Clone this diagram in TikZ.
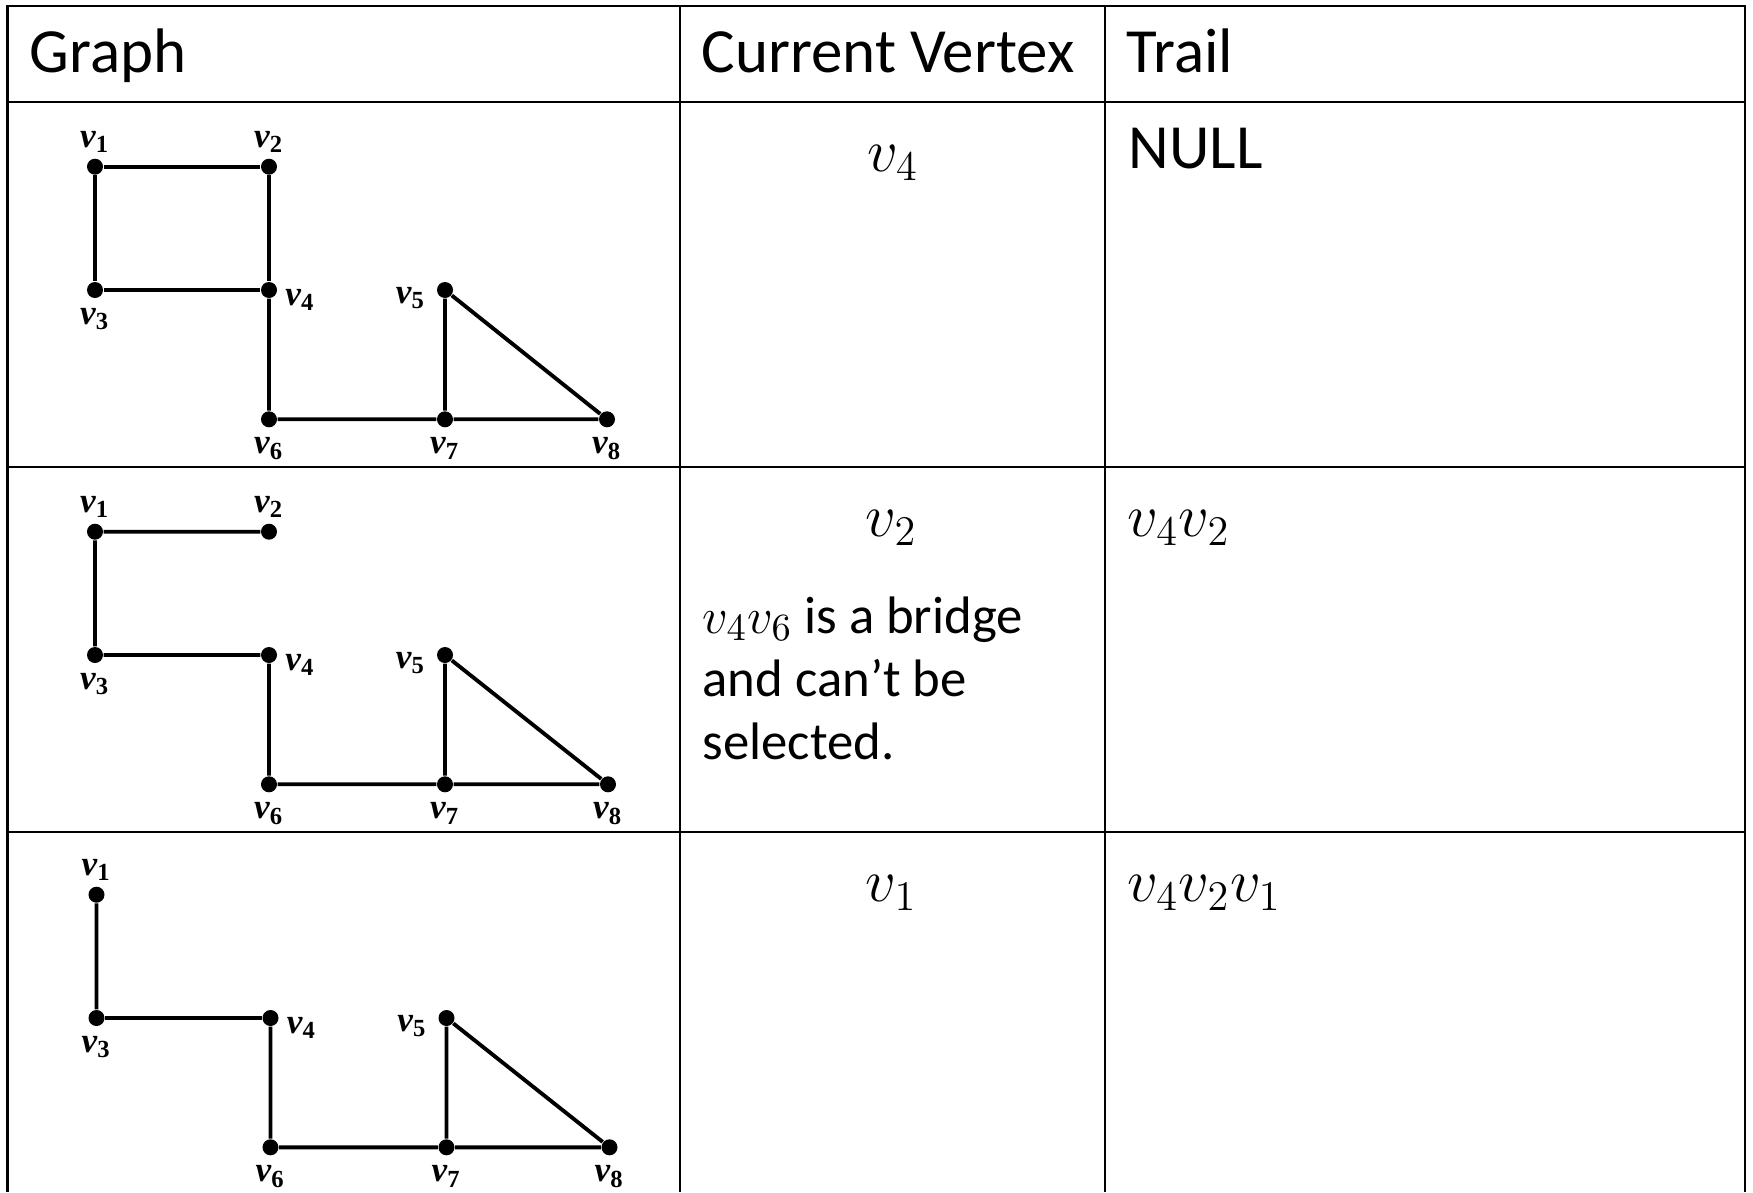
\documentclass[tikz,border=0pt]{standalone}
\usepackage{fontspec}
\setmainfont{Carlito}
\newfontfamily\lblfont{Liberation Serif}
\usetikzlibrary{positioning}

\newcommand{\vl}[1]{{\lblfont\bfseries\itshape v}\textsubscript{\lblfont\bfseries #1}}

\tikzset{
  rule/.style={line width=0.8pt},
  dot/.style={circle, fill, inner sep=0pt, minimum size=0.16cm},
  edge/.style={line width=1.1pt},
  vlabel/.style={inner sep=0pt, font=\lblfont\bfseries\fontsize{10}{11}\selectfont},
  labup/.style={label={[vlabel,label distance=0.05cm]above:\vl{#1}}},
  labdown/.style={label={[vlabel,label distance=0.09cm]below:\vl{#1}}},
  labright/.style={label={[vlabel,label distance=0.07cm,yshift=-0.1cm]right:\vl{#1}}},
  lableft/.style={label={[vlabel,label distance=0.1cm,yshift=-0.08cm]left:\vl{#1}}},
  cell/.style={inner sep=0pt, font=\fontsize{17.9}{21}\selectfont},
  note/.style={inner sep=0pt, font=\fontsize{15}{18}\selectfont}
}

\begin{document}
\begin{tikzpicture}
\useasboundingbox (0,0) rectangle (17.53,-11.92);

% table rules
\draw[rule] (0.073,-11.92) -- (0.073,-0.06) -- (17.45,-0.06) -- (17.45,-11.92);
\draw[rule] (0.073,-1.02) -- (17.45,-1.02);
\draw[rule] (0.073,-4.67) -- (17.45,-4.67);
\draw[rule] (0.073,-8.32) -- (17.45,-8.32);
\draw[rule] (6.80,-0.06) -- (6.80,-11.92);
\draw[rule] (11.05,-0.06) -- (11.05,-11.92);

% header
\node[cell, anchor=base west] (hgraph) at (0.29,-0.72) {Graph};
\node[cell, anchor=base west] (hcurrent) at (7.01,-0.72) {Current Vertex};
\node[cell, anchor=base west] (htrail) at (11.26,-0.72) {Trail};

% row 1
\node[dot, labup=1] (a1) at (0.95,-1.667) {};
\node[dot, labup=2] (a2) at (2.69,-1.667) {};
\node[dot, labdown=3] (a3) at (0.95,-2.90) {};
\node[dot, labright=4] (a4) at (2.69,-2.90) {};
\node[dot, lableft=5] (a5) at (4.45,-2.90) {};
\node[dot, labdown=6] (a6) at (2.69,-4.193) {};
\node[dot, labdown=7] (a7) at (4.45,-4.193) {};
\node[dot, labdown=8] (a8) at (6.07,-4.193) {};
\draw[edge] (a1) -- (a2) -- (a4) -- (a3) -- (a1);
\draw[edge] (a4) -- (a6) -- (a7) -- (a8) -- (a5) -- (a7);
\node[cell, anchor=base] (cur1) at (8.93,-1.717) {$v_4$};
\node[cell, anchor=base west] (trail1) at (11.28,-1.68) {NULL};

% row 2
\begin{scope}[yshift=-3.65cm]
\node[dot, labup=1] (b1) at (0.95,-1.667) {};
\node[dot, labup=2] (b2) at (2.69,-1.667) {};
\node[dot, labdown=3] (b3) at (0.95,-2.90) {};
\node[dot, labright=4] (b4) at (2.69,-2.90) {};
\node[dot, lableft=5] (b5) at (4.45,-2.90) {};
\node[dot, labdown=6] (b6) at (2.69,-4.193) {};
\node[dot, labdown=7] (b7) at (4.45,-4.193) {};
\node[dot, labdown=8] (b8) at (6.08,-4.193) {};
\draw[edge] (b2) -- (b1) -- (b3) -- (b4) -- (b6) -- (b7) -- (b8) -- (b5) -- (b7);
\end{scope}
\node[cell, anchor=base] (cur2) at (8.915,-5.36) {$v_2$};
\node[note, anchor=base west] (why2) at (7.02,-6.33)
  {\parbox[t]{4cm}{\raggedright $v_4v_6$ is a bridge\\ and can't be\\ selected.}};
\node[cell, anchor=base west] (trail2) at (11.27,-5.36) {$v_4v_2$};

% row 3
\begin{scope}[yshift=-7.28cm, xshift=0.015cm]
\node[dot, labup=1] (c1) at (0.95,-1.667) {};
\node[dot, labdown=3] (c3) at (0.95,-2.90) {};
\node[dot, labright=4] (c4) at (2.69,-2.90) {};
\node[dot, lableft=5] (c5) at (4.45,-2.90) {};
\node[dot, labdown=6] (c6) at (2.69,-4.193) {};
\node[dot, labdown=7] (c7) at (4.45,-4.193) {};
\node[dot, labdown=8] (c8) at (6.08,-4.193) {};
\draw[edge] (c1) -- (c3) -- (c4) -- (c6) -- (c7) -- (c8) -- (c5) -- (c7);
\end{scope}
\node[cell, anchor=base] (cur3) at (8.915,-9.017) {$v_1$};
\node[cell, anchor=base west] (trail3) at (11.27,-9.017) {$v_4v_2v_1$};
\end{tikzpicture}
\end{document}
